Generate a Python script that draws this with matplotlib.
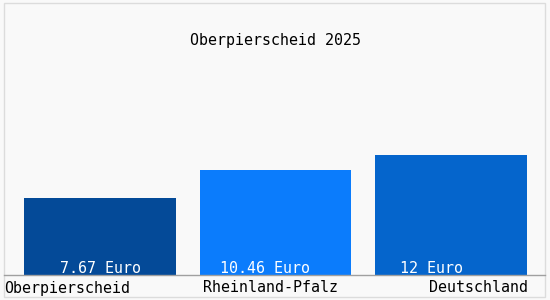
import matplotlib
matplotlib.use('Agg')
import matplotlib.pyplot as plt
from matplotlib.patches import Rectangle
from matplotlib.lines import Line2D

title = 'Oberpierscheid 2025'
regions = ['Oberpierscheid', 'Rheinland-Pfalz', 'Deutschland']
values = [7.67, 10.46, 12.0]
value_labels = ['7.67 Euro', '10.46 Euro', '12 Euro']
bar_colors = ['#044a98', '#0b7cfc', '#0565cc']

W, H = 550, 300
fig = plt.figure(figsize=(W / 100, H / 100), dpi=100)
fig.patch.set_facecolor('#f9f9f9')
mono = 'DejaVu Sans Mono'
fs = 10.8

# light frame around everything
fig.patches.append(Rectangle((4 / W, 3 / H), 541 / W, 294 / H, transform=fig.transFigure,
                             fill=False, edgecolor='#dcdcdc', lw=1))

# axes: baseline at y=275 px, 12 Euro = 120 px
base = 275
ax = fig.add_axes([4 / W, (H - base) / H, 541 / W, (base - 30) / H])
ax.set_facecolor('none')
pitch = 175.5
ax.set_xlim((4 - 100) / pitch, (545 - 100) / pitch)
ax.set_ylim(0, (base - 30) / 120 * 12)
ax.axis('off')

xs = list(range(len(values)))
ax.bar(xs, values, width=152 / pitch, color=bar_colors, edgecolor='none')

offsets = [0.0, -0.06, -0.11]
for x, off, lab in zip(xs, offsets, value_labels):
    ax.text(x + off, 0.65, lab, color='white', ha='center', va='center',
            fontsize=fs, family=mono)

fig.lines.append(Line2D([4 / W, 545 / W], [(H - base) / H] * 2, transform=fig.transFigure,
                        color='#a0a0a0', lw=1))

# category labels under the baseline
lab_x = [4 / W, 271 / W, 528 / W]
lab_ha = ['left', 'center', 'right']
for x, ha, lab in zip(lab_x, lab_ha, regions):
    fig.text(x, (H - 288) / H, lab, ha=ha, va='center', fontsize=fs, family=mono,
             color='black')

fig.text(0.5, (H - 40) / H, title, ha='center', va='center', fontsize=fs, family=mono)

fig.savefig('out.png', dpi=100, facecolor=fig.get_facecolor())
